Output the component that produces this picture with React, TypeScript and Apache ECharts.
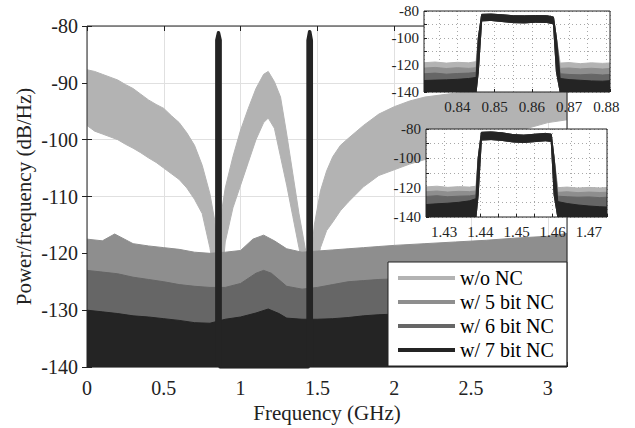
import React, { useEffect, useRef } from "react";
import * as echarts from "echarts";

// ---------- data ----------
const seriesNames = ["w/o NC", "w/ 5 bit NC", "w/ 6 bit NC", "w/ 7 bit NC"];

// main plot: w/o NC noise band (upper / lower envelope)
const noncFreq = [0, 0.05, 0.1, 0.15, 0.2, 0.25, 0.3, 0.35, 0.4, 0.45,
  0.5, 0.55, 0.6, 0.65, 0.7, 0.75, 0.8, 0.83, 0.855, 0.88,
  0.9, 0.95, 1.0, 1.05, 1.1, 1.15, 1.18, 1.22, 1.26, 1.3,
  1.34, 1.38, 1.42, 1.45, 1.48, 1.52, 1.56, 1.6, 1.65, 1.7,
  1.8, 1.9, 2.0, 2.1, 2.2, 2.4, 2.6, 2.8, 3.0, 3.125];
const noncUpper = [-87.7, -88.0, -88.5, -89.0, -89.5, -90.3, -91.0, -92.0, -93.0, -93.8,
  -94.5, -95.8, -97.0, -98.8, -101.0, -104.5, -109.5, -114.0, -121.0, -112.0,
  -108.5, -103.0, -98.3, -94.5, -91.0, -88.5, -88.0, -89.8, -92.5, -99.0,
  -106.0, -113.0, -119.0, -123.0, -115.0, -109.0, -105.5, -103.0, -101.0, -99.8,
  -97.5, -95.5, -94.2, -93.2, -92.5, -91.8, -91.3, -91.0, -90.8, -90.5];
const noncLower = [-97.5, -98.5, -99.0, -99.5, -100.0, -100.8, -101.5, -102.3, -103.2, -104.0,
  -105.0, -106.0, -107.0, -108.5, -110.5, -113.0, -119.0, -124.0, -126.0, -124.0,
  -118.0, -112.0, -108.0, -104.0, -100.0, -97.0, -96.2, -98.0, -103.0, -108.0,
  -113.5, -119.0, -124.0, -126.0, -124.0, -119.0, -116.0, -114.5, -112.5, -111.0,
  -108.3, -106.3, -105.3, -104.3, -103.5, -102.0, -100.5, -98.5, -97.0, -96.5];

// main plot: noise-floor tops of the NC series
const fiveFreq = [0, 0.1, 0.18, 0.3, 0.4, 0.5, 0.6, 0.7, 0.8, 0.9, 1.0, 1.08, 1.15, 1.22,
  1.3, 1.4, 1.5, 1.6, 1.7, 1.8, 1.9, 2.0, 2.2, 2.4, 2.6, 2.8, 3.0, 3.125];
const fiveTop = [-117.5, -117.8, -116.6, -118.3, -118.7, -119.0, -119.3, -119.8, -120.0, -119.8,
  -119.5, -117.5, -116.8, -117.8, -119.2, -119.8, -119.6, -119.4, -119.2, -119.0,
  -118.8, -118.6, -118.3, -118.0, -117.7, -117.3, -117.0, -116.5];
const sixFreq = [0, 0.1, 0.2, 0.3, 0.4, 0.5, 0.6, 0.7, 0.8, 0.9, 1.0, 1.1, 1.15, 1.2,
  1.3, 1.4, 1.5, 1.6, 1.7, 1.8, 1.9, 2.0, 2.5, 3.125];
const sixTop = [-123.0, -123.3, -123.6, -124.2, -124.6, -125.0, -125.5, -125.8, -126.0, -126.0,
  -125.3, -123.5, -123.0, -123.5, -125.8, -126.3, -126.0, -125.5, -125.0, -124.8,
  -124.6, -124.5, -124.0, -123.5];
const sevenFreq = [0, 0.1, 0.2, 0.3, 0.4, 0.5, 0.6, 0.7, 0.8, 0.9, 1.0, 1.1, 1.18, 1.25,
  1.3, 1.4, 1.5, 1.6, 1.7, 1.8, 1.9, 2.0, 2.5, 3.125];
const sevenTop = [-130.0, -130.3, -130.6, -131.0, -131.2, -131.5, -131.8, -132.2, -132.3, -131.6,
  -131.2, -130.5, -129.8, -130.6, -131.4, -131.6, -131.6, -131.5, -131.3, -131.0,
  -130.8, -130.7, -130.5, -130.3];

// carriers (GHz, dB/Hz)
const carrierStart = [0.8455, 1.4393];
const carrierEnd = [0.8666, 1.4602];
const carrierPeak = [-81.2, -81.0];
const carrierShoulder = [-82.5, -82.5];

// inset 1 (around 0.856 GHz)
const inset1Freq = [0.831, 0.834, 0.837, 0.840, 0.843, 0.8450, 0.8456, 0.8465, 0.849, 0.852, 0.855,
  0.858, 0.861, 0.864, 0.8658, 0.8666, 0.8676, 0.870, 0.873, 0.876, 0.879, 0.881];
const inset1Upper = [
  [-118.3, -117.8, -118.6, -118.0, -118.4, -117.5, -100, -82.5, -82.3, -82.8, -83.5, -83.6, -83.4, -83.5, -84.5, -100, -118.6, -118.2, -119.0, -118.4, -118.8, -118.5],
  [-122.3, -121.8, -122.6, -122.0, -122.5, -122.0, -100, -82.5, -82.3, -82.8, -83.5, -83.6, -83.4, -83.5, -84.5, -100, -122.5, -122.2, -122.9, -122.4, -123.0, -122.6],
  [-126.5, -126.0, -126.8, -126.3, -126.0, -125.5, -100, -82.5, -82.3, -82.8, -83.5, -83.6, -83.4, -83.5, -84.5, -100, -126.5, -127.0, -127.3, -126.8, -127.4, -127.0],
  [-131.5, -131.2, -131.0, -130.6, -130.0, -129.2, -100, -82.5, -82.3, -82.8, -83.5, -83.6, -83.4, -83.5, -84.5, -100, -130.0, -130.8, -131.3, -131.8, -132.0, -131.6],
];
const inset1Lower = [-140, -140, -140, -140, -140, -140, -125, -87.3, -87.0, -87.8, -88.6, -88.8, -88.3, -88.5, -89.5, -125, -140, -140, -140, -140, -140, -140];

// inset 2 (around 1.45 GHz)
const inset2Freq = [1.425, 1.428, 1.431, 1.434, 1.437, 1.4388, 1.4394, 1.4403, 1.443, 1.446, 1.449,
  1.452, 1.455, 1.458, 1.4596, 1.4604, 1.4614, 1.464, 1.467, 1.470, 1.473, 1.475];
const inset2Upper = [
  [-119.5, -119.0, -119.8, -119.3, -119.6, -119.0, -100, -82.3, -82.0, -82.6, -83.8, -84.2, -83.6, -83.0, -83.5, -100, -120.0, -119.6, -120.3, -119.8, -120.2, -119.9],
  [-122.8, -122.3, -123.0, -122.5, -122.7, -122.3, -100, -82.3, -82.0, -82.6, -83.8, -84.2, -83.6, -83.0, -83.5, -100, -123.2, -122.8, -123.4, -123.0, -123.3, -123.1],
  [-126.0, -125.5, -126.2, -125.8, -125.6, -125.0, -100, -82.3, -82.0, -82.6, -83.8, -84.2, -83.6, -83.0, -83.5, -100, -125.8, -126.2, -126.5, -126.3, -126.8, -126.5],
  [-131.5, -131.0, -130.6, -130.0, -129.0, -127.5, -100, -82.3, -82.0, -82.6, -83.8, -84.2, -83.6, -83.0, -83.5, -100, -129.5, -130.8, -131.8, -132.5, -133.0, -133.2],
];
const inset2Lower = [-140, -140, -140, -140, -140, -140, -125, -87.5, -87.2, -87.8, -88.8, -89.2, -88.6, -88.0, -88.5, -125, -140, -140, -140, -140, -140, -140];

// axis ranges and tick labels
const mainXMax = 3.125;
const mainXTicks = [0, 0.5, 1, 1.5, 2, 2.5, 3];
const mainXLabels = ["0", "0.5", "1", "1.5", "2", "2.5", "3"];
const mainYTicks = [-140, -130, -120, -110, -100, -90, -80];
const mainYLabels = ["-140", "-130", "-120", "-110", "-100", "-90", "-80"];
const inset1Range = [0.831, 0.881];
const inset1XTicks = [0.84, 0.85, 0.86, 0.87, 0.88];
const inset1XLabels = ["0.84", "0.85", "0.86", "0.87", "0.88"];
const inset2Range = [1.425, 1.475];
const inset2XTicks = [1.43, 1.44, 1.45, 1.46, 1.47];
const inset2XLabels = ["1.43", "1.44", "1.45", "1.46", "1.47"];
const insetYTicks = [-140, -120, -100, -80];
const insetYLabels = ["-140", "-120", "-100", "-80"];

// ---------- styles ----------
const COLORS = ["#b3b3b3", "#8e8e8e", "#666666", "#242424"];
const FONT = "Liberation Serif";
const INK = "#222";

// band between lower and upper envelopes, drawn as one polygon through the axis scales
function band(name: string, color: string, xs: number[], lower: number[], upper: number[], axis: number, z: number) {
  return {
    type: "custom", name, xAxisIndex: axis, yAxisIndex: axis, z, silent: true, clip: true,
    itemStyle: { color },
    data: xs.map((x, i) => [x, lower[i], upper[i]]),
    encode: { x: 0, y: [1, 2] },
    renderItem: (params: any, api: any) => {
      if (params.dataIndex !== 0) return null;
      const pts: number[][] = [];
      for (let i = 0; i < xs.length; i++) pts.push(api.coord([xs[i], upper[i]]));
      for (let i = xs.length - 1; i >= 0; i--) pts.push(api.coord([xs[i], lower[i]]));
      return {
        type: "polygon",
        shape: { points: pts },
        style: { fill: color, stroke: color, lineWidth: 1 },
      };
    },
  };
}

function floorArea(name: string, color: string, xs: number[], top: number[], z: number, width = 1) {
  return {
    type: "line", name, xAxisIndex: 0, yAxisIndex: 0, data: xs.map((x, i) => [x, top[i]]),
    symbol: "none", silent: true, z, color,
    lineStyle: { color, width }, areaStyle: { color, opacity: 1, origin: "start" },
  };
}

const insetRects = [
  { id: "bg1", type: "rect", shape: { x: 424, y: 11, width: 186, height: 81 }, style: { fill: "#fff" }, z: 5, silent: true },
  { id: "bg2", type: "rect", shape: { x: 426, y: 129, width: 181, height: 88 }, style: { fill: "#fff" }, z: 5, silent: true },
];

function buildOption() {
  const carrierPts: number[][] = [];
  carrierStart.forEach((lo, i) => {
    const hi = carrierEnd[i];
    carrierPts.push([lo, -140], [lo, carrierShoulder[i]], [(lo + hi) / 2, carrierPeak[i]], [hi, carrierShoulder[i]], [hi, -140]);
  });

  const series: any[] = [];
  series.push(band(seriesNames[0], COLORS[0], noncFreq, noncLower, noncUpper, 0, 2));
  series.push(floorArea(seriesNames[1], COLORS[1], fiveFreq, fiveTop, 2));
  series.push(floorArea(seriesNames[2], COLORS[2], sixFreq, sixTop, 2));
  series.push(floorArea(seriesNames[3], COLORS[3], sevenFreq, sevenTop, 2));
  series.push({
    type: "line", name: seriesNames[3], xAxisIndex: 0, yAxisIndex: 0, data: carrierPts, symbol: "none",
    silent: true, z: 2, color: COLORS[3], lineStyle: { color: COLORS[3], width: 3.5, join: "round" },
    areaStyle: { color: COLORS[3], opacity: 1, origin: "start" },
  });
  for (let s = 0; s < 4; s++) {
    series.push(band(seriesNames[s], COLORS[s], inset1Freq, inset1Lower, inset1Upper[s], 2, 7));
  }
  for (let s = 0; s < 4; s++) {
    series.push(band(seriesNames[s], COLORS[s], inset2Freq, inset2Lower, inset2Upper[s], 3, 7));
  }

  const dotted = { color: "#a8a8a8", width: 1, type: [1, 3] };
  const tickIn = (len: number) => ({ inside: true, length: len, lineStyle: { color: INK } });
  const yInset = (grid: number) => ({
    type: "value", gridIndex: grid, min: -140, max: -80, interval: 10, z: 6,
    axisLine: { show: false }, axisTick: tickIn(3), axisLabel: { show: false },
    splitLine: { show: true, lineStyle: dotted },
  });

  return {
    animation: false,
    backgroundColor: "#fff",
    textStyle: { fontFamily: FONT },
    grid: [
      { left: 87, top: 26, width: 480, height: 341, show: true, borderColor: INK, borderWidth: 1, backgroundColor: "rgba(0,0,0,0)", z: 3 },
      { left: 424, top: 11, width: 186, height: 81, show: true, borderColor: INK, borderWidth: 1, backgroundColor: "rgba(0,0,0,0)", z: 8 },
      { left: 426, top: 129, width: 181, height: 88, show: true, borderColor: INK, borderWidth: 1, backgroundColor: "rgba(0,0,0,0)", z: 8 },
    ],
    graphic: { elements: insetRects },
    xAxis: [
      {
        type: "value", gridIndex: 0, min: 0, max: mainXMax, interval: 0.5,
        axisLine: { show: false }, axisTick: tickIn(5), axisLabel: { show: false },
        splitLine: { show: true, lineStyle: { color: "#e0e0e0", width: 1 } },
        name: "Frequency (GHz)", nameLocation: "middle", nameGap: 35,
        nameTextStyle: { fontFamily: FONT, fontSize: 21, color: INK },
      },
      {
        type: "value", gridIndex: 0, position: "top", min: 0, max: mainXMax, interval: 0.5,
        axisLine: { show: false }, axisLabel: { show: false }, splitLine: { show: false }, axisTick: tickIn(5),
      },
      {
        type: "value", gridIndex: 1, min: inset1Range[0], max: inset1Range[1], splitNumber: 5, z: 6,
        axisLine: { show: false }, axisTick: tickIn(3), axisLabel: { show: false },
        splitLine: { show: true, lineStyle: dotted },
        minorTick: { show: false, splitNumber: 2 },
        minorSplitLine: { show: true, lineStyle: dotted },
      },
      {
        type: "value", gridIndex: 2, min: inset2Range[0], max: inset2Range[1], interval: 0.005, z: 6,
        axisLine: { show: false }, axisTick: tickIn(3), axisLabel: { show: false },
        splitLine: { show: true, lineStyle: dotted },
      },
    ],
    yAxis: [
      {
        type: "value", gridIndex: 0, min: -140, max: -80, interval: 10,
        axisLine: { show: false }, axisTick: tickIn(5), axisLabel: { show: false },
        splitLine: { show: true, lineStyle: { color: "#e0e0e0", width: 1 } },
        name: "Power/frequency (dB/Hz)", nameLocation: "middle", nameGap: 53,
        nameTextStyle: { fontFamily: FONT, fontSize: 21, color: INK },
      },
      {
        type: "value", gridIndex: 0, position: "right", min: -140, max: -80, interval: 10,
        axisLine: { show: false }, axisLabel: { show: false }, splitLine: { show: false }, axisTick: tickIn(5),
      },
      yInset(1),
      yInset(2),
    ],
    legend: {
      data: seriesNames, orient: "vertical", left: 388, top: 262, z: 20,
      padding: [6, 13, 6, 10], itemGap: 4, itemWidth: 57, itemHeight: 4, icon: "rect",
      backgroundColor: "#fff", borderColor: INK, borderWidth: 1, borderRadius: 0,
      textStyle: { fontFamily: FONT, fontSize: 20, color: "#000" },
      selectedMode: false,
    },
    series,
  };
}

// tick labels placed through the chart's own axis scales
function tickLabels(chart: any) {
  const out: any[] = [];
  const txt = (text: string, x: number, y: number, size: number, align: string, vAlign: string, z: number) => ({
    type: "text", z, silent: true,
    style: { text, x, y, fill: INK, fontFamily: FONT, fontSize: size, align, verticalAlign: vAlign },
  });
  const xLabels = (axis: number, ticks: number[], labels: string[], size: number, gap: number, vAlign: string, z: number) => {
    ticks.forEach((v, i) => {
      const p = chart.convertToPixel({ xAxisIndex: axis, yAxisIndex: axis }, [v, -140]);
      out.push(txt(labels[i], p[0], p[1] + gap, size, "center", vAlign, z));
    });
  };
  const yLabels = (axis: number, xAt: number, ticks: number[], labels: string[], size: number, gap: number, z: number) => {
    ticks.forEach((v, i) => {
      const p = chart.convertToPixel({ xAxisIndex: axis, yAxisIndex: axis }, [xAt, v]);
      out.push(txt(labels[i], p[0] - gap, p[1], size, "right", "middle", z));
    });
  };
  xLabels(0, mainXTicks, mainXLabels, 20, 11, "top", 10);
  yLabels(0, 0, mainYTicks, mainYLabels, 20, 9, 10);
  xLabels(2, inset1XTicks, inset1XLabels, 15, 15, "middle", 6);
  yLabels(2, inset1Range[0], insetYTicks, insetYLabels, 15, 5, 6);
  xLabels(3, inset2XTicks, inset2XLabels, 15, 15, "middle", 6);
  yLabels(3, inset2Range[0], insetYTicks, insetYLabels, 15, 5, 6);
  return out;
}

export default function App() {
  const ref = useRef<HTMLDivElement>(null);
  useEffect(() => {
    const chart = echarts.init(ref.current as HTMLDivElement, undefined, { renderer: "svg" });
    chart.setOption(buildOption() as any);
    chart.setOption({ graphic: { elements: [...insetRects, ...tickLabels(chart)] } } as any);
    return () => chart.dispose();
  }, []);
  return (
    <div
      ref={ref}
      style={{ position: "fixed", left: 0, top: 0, width: 635, height: 428, background: "#fff" }}
    />
  );
}
